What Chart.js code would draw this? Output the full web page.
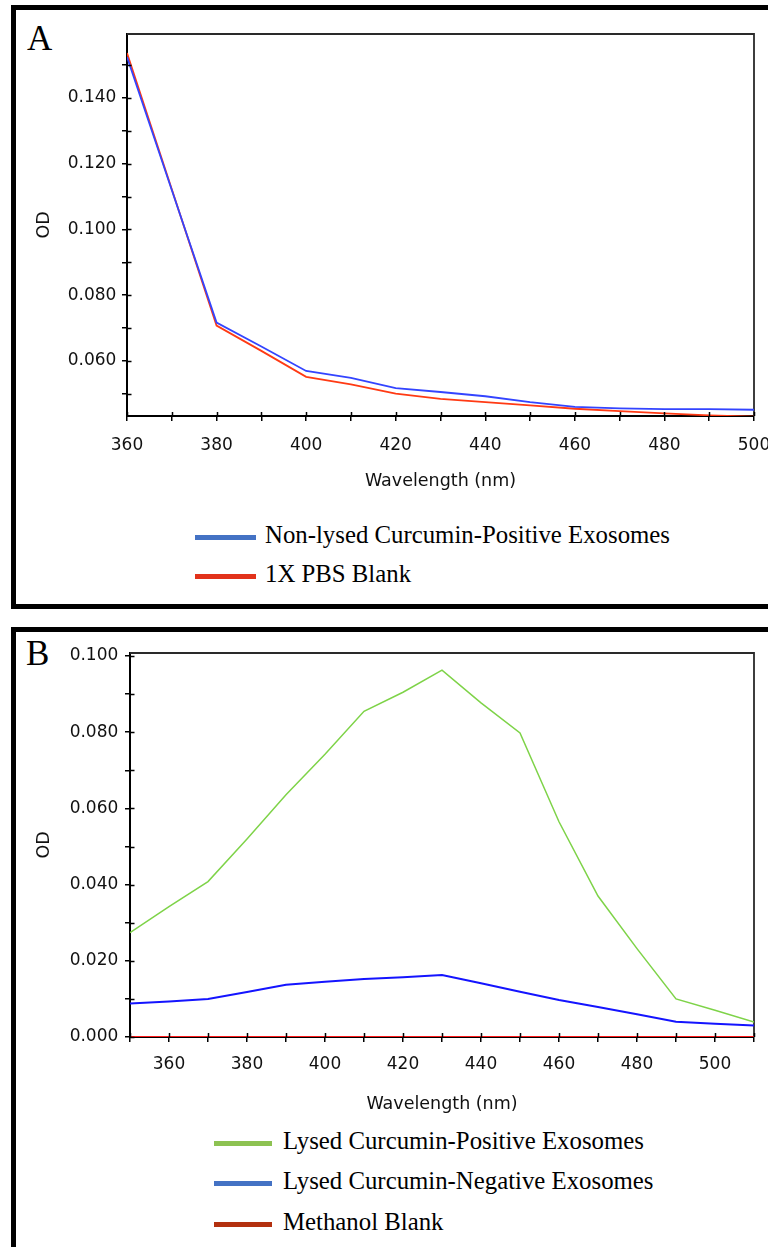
<!DOCTYPE html>
<html><head><meta charset="utf-8">
<script src="https://cdn.jsdelivr.net/npm/chart.js@4.4.1/dist/chart.umd.min.js"></script>
<style>
html,body{margin:0;padding:0;width:768px;height:1247px;overflow:hidden;background:#fff;}
.frame{position:absolute;border:5px solid #000;box-sizing:border-box;}
canvas{position:absolute;left:0;}
.letter{position:absolute;font-family:'Liberation Serif','Times New Roman',serif;font-size:35px;line-height:35px;color:#000;}
.lg-bar{position:absolute;height:5px;}
.lg-text{position:absolute;font-family:'Liberation Serif','Times New Roman',serif;font-size:24.8px;line-height:24.8px;color:#000;white-space:nowrap;}
</style></head>
<body>
<div class="frame" style="left:11px;top:5px;width:820px;height:604px;"></div>
<div class="frame" style="left:11px;top:627px;width:820px;height:700px;"></div>
<div class="letter" style="left:27px;top:21px;">A</div>
<div class="letter" style="left:26px;top:636px;">B</div>
<canvas id="chartA" width="768" height="500" style="top:0px;width:768px;height:500px;"></canvas>
<canvas id="chartB" width="768" height="520" style="top:600px;width:768px;height:520px;"></canvas>
<div id="legendA"></div>
<div id="legendB"></div>
<script>
// ---------- Panel A data ----------
const wavelengthsA = [360, 370, 380, 390, 400, 410, 420, 430, 440, 450, 460, 470, 480, 490, 500];
const nonLysedPositiveA = [0.1524, 0.1120, 0.0717, 0.0644, 0.0570, 0.0549, 0.0518, 0.0506, 0.0493, 0.0475, 0.0461, 0.0456, 0.0454, 0.0454, 0.0452];
const pbsBlankA = [0.1536, 0.1122, 0.0708, 0.0631, 0.0552, 0.0529, 0.0501, 0.0485, 0.0475, 0.0465, 0.0455, 0.0448, 0.0441, 0.0435, 0.0431];
const seriesNamesA = ['Non-lysed Curcumin-Positive Exosomes', '1X PBS Blank'];
const lineColorsA = ['#3344ff', '#ff3a14'];
const legendColorsA = ['#4472c4', '#e2321b'];
const xTicksA = [360, 370, 380, 390, 400, 410, 420, 430, 440, 450, 460, 470, 480, 490, 500];
const xTickLabelsA = ['360', '380', '400', '420', '440', '460', '480', '500'];
const yTicksA = [0.05, 0.06, 0.07, 0.08, 0.09, 0.10, 0.11, 0.12, 0.13, 0.14, 0.15];
const yTickLabelsA = ['0.060', '0.080', '0.100', '0.120', '0.140'];

// ---------- Panel B data ----------
const wavelengthsB = [350, 360, 370, 380, 390, 400, 410, 420, 430, 440, 450, 460, 470, 480, 490, 500, 510];
const lysedPositiveB = [0.0274, 0.0342, 0.0408, 0.0520, 0.0636, 0.0742, 0.0855, 0.0905, 0.0963, 0.0877, 0.0798, 0.0565, 0.0370, 0.0232, 0.0100, 0.0070, 0.0039];
const lysedNegativeB = [0.0088, 0.0093, 0.0100, 0.0118, 0.0137, 0.0145, 0.0152, 0.0157, 0.0163, 0.0141, 0.0119, 0.0097, 0.0079, 0.0060, 0.0040, 0.0035, 0.0030];
const methanolBlankB = [0, 0, 0, 0, 0, 0, 0, 0, 0, 0, 0, 0, 0, 0, 0, 0, 0];
const seriesNamesB = ['Lysed Curcumin-Positive Exosomes', 'Lysed Curcumin-Negative Exosomes', 'Methanol Blank'];
const lineColorsB = ['#7ed348', '#1414ff', '#ff1a1a'];
const legendColorsB = ['#8dc252', '#4472c4', '#b3300f'];
const xTicksB = [350, 360, 370, 380, 390, 400, 410, 420, 430, 440, 450, 460, 470, 480, 490, 500, 510];
const xTickLabelsB = ['360', '380', '400', '420', '440', '460', '480', '500'];
const yTicksB = [0, 0.01, 0.02, 0.03, 0.04, 0.05, 0.06, 0.07, 0.08, 0.09, 0.10];
const yTickLabelsB = ['0.000', '0.020', '0.040', '0.060', '0.080', '0.100'];

const FONT = 'DejaVu Sans';

const boxAndInnerTicks = {
  id: 'boxAndInnerTicks',
  beforeDatasetsDraw(chart) {
    const {ctx, chartArea: a} = chart;
    ctx.save();
    ctx.strokeStyle = '#2a2a2a';
    ctx.lineWidth = 1.8;
    ctx.beginPath();
    ctx.moveTo(a.left, a.top);
    ctx.lineTo(a.right, a.top);
    ctx.lineTo(a.right, a.bottom);
    ctx.stroke();
    ctx.restore();
  },
  afterDatasetsDraw(chart) {
    const {ctx, chartArea: a, scales: {x, y}} = chart;
    ctx.save();
    ctx.strokeStyle = '#000';
    ctx.lineWidth = 1.5;
    ctx.beginPath();
    x.ticks.forEach(t => {
      const px = Math.round(x.getPixelForValue(t.value)) + 0.5;
      ctx.moveTo(px, a.bottom);
      ctx.lineTo(px, a.bottom - 4);
    });
    y.ticks.forEach(t => {
      const py = Math.round(y.getPixelForValue(t.value)) + 0.5;
      ctx.moveTo(a.left, py);
      ctx.lineTo(a.left + 4.5, py);
    });
    ctx.stroke();
    ctx.restore();
  }
};

function buildChart(id, p) {
  const datasets = p.series.map((vals, i) => ({
    label: p.names[i],
    data: p.xs.map((xv, j) => ({x: xv, y: vals[j]})),
    borderColor: p.colors[i],
    borderWidth: p.widths[i],
    pointRadius: 0,
    tension: 0,
    fill: false
  }));
  const gridOpts = {drawOnChartArea: false, drawTicks: true, tickLength: 5, color: '#000', lineWidth: 1.5};
  const borderOpts = {display: true, color: '#000', width: 2};
  return new Chart(document.getElementById(id), {
    type: 'line',
    data: {datasets},
    plugins: [boxAndInnerTicks],
    options: {
      responsive: false,
      animation: false,
      layout: {padding: {top: p.padTop, right: p.padRight, left: 0, bottom: 0}},
      plugins: {legend: {display: false}, tooltip: {enabled: false}},
      scales: {
        x: {
          type: 'linear', position: 'bottom', min: p.xMin, max: p.xMax,
          afterBuildTicks: s => { s.ticks = p.xTicks.map(v => ({value: v})); },
          afterFit: s => { s.height = p.xHeight; s.paddingLeft = 0; s.paddingRight = 0; },
          ticks: {
            autoSkip: false, maxRotation: 0, minRotation: 0, padding: p.xTickPad, color: '#111',
            font: {family: FONT, size: 17},
            callback: v => (p.xLabels.includes(String(v)) ? String(v) : '')
          },
          grid: gridOpts,
          border: borderOpts,
          title: {display: true, text: 'Wavelength (nm)', color: '#111',
                  font: {family: FONT, size: 17.5}, padding: {top: 0, bottom: p.xTitlePad}}
        },
        y: {
          type: 'linear', position: 'left', min: p.yMin, max: p.yMax,
          afterBuildTicks: s => { s.ticks = p.yTicks.map(v => ({value: v})); },
          afterFit: s => { s.width = p.yWidth; s.paddingTop = 0; s.paddingBottom = 0; },
          ticks: {
            padding: p.yTickPad, color: '#111',
            font: {family: FONT, size: 17},
            callback: v => { const t = Number(v).toFixed(3); return p.yLabels.includes(t) ? t : ''; }
          },
          grid: gridOpts,
          border: borderOpts,
          title: {display: true, text: 'OD', color: '#111',
                  font: {family: FONT, size: 17.5}, padding: {top: 33.5, bottom: 0}}
        }
      }
    }
  });
}

buildChart('chartA', {
  xs: wavelengthsA, series: [nonLysedPositiveA, pbsBlankA], names: seriesNamesA,
  colors: lineColorsA, widths: [1.8, 1.8],
  padTop: 34, padRight: 14, xHeight: 84, yWidth: 127,
  xMin: 360, xMax: 500, yMin: 0.0433, yMax: 0.1594,
  xTicks: xTicksA, xLabels: xTickLabelsA, yTicks: yTicksA, yLabels: yTickLabelsA,
  xTickPad: 14.5, yTickPad: 5.6, xTitlePad: 8.5
});

buildChart('chartB', {
  xs: wavelengthsB, series: [lysedPositiveB, lysedNegativeB, methanolBlankB], names: seriesNamesB,
  colors: lineColorsB, widths: [1.5, 2, 2],
  padTop: 53, padRight: 14, xHeight: 83, yWidth: 130,
  xMin: 350, xMax: 510, yMin: 0, yMax: 0.1008,
  xTicks: xTicksB, xLabels: xTickLabelsB, yTicks: yTicksB, yLabels: yTickLabelsB,
  xTickPad: 12, yTickPad: 6.7, xTitlePad: 5.5
});

function buildLegend(containerId, names, colors, barLeft, barWidth, textLeft, baseline0, spacing) {
  const c = document.getElementById(containerId);
  names.forEach((name, i) => {
    const baseline = baseline0 + i * spacing;
    const bar = document.createElement('div');
    bar.className = 'lg-bar';
    bar.style.left = barLeft + 'px';
    bar.style.width = barWidth + 'px';
    bar.style.top = (baseline - 8.5) + 'px';
    bar.style.background = colors[i];
    c.appendChild(bar);
    const txt = document.createElement('div');
    txt.className = 'lg-text';
    txt.style.left = textLeft + 'px';
    txt.style.top = (baseline - 20.8) + 'px';
    txt.textContent = name;
    c.appendChild(txt);
  });
}
buildLegend('legendA', seriesNamesA, legendColorsA, 195, 61, 265, 543.3, 39.4);
buildLegend('legendB', seriesNamesB, legendColorsB, 214, 58, 283, 1149.3, 40.6);
</script>
</body></html>
